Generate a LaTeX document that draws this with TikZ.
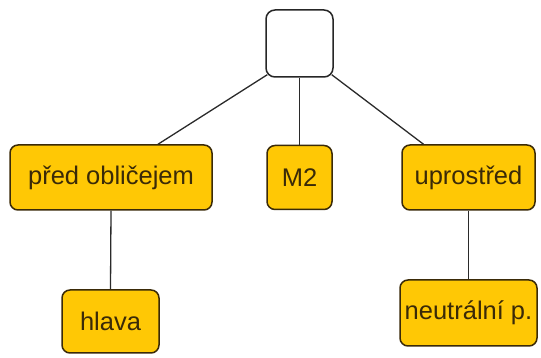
\documentclass[tikz,border=0pt]{standalone}
\usepackage{fontspec}
\setmainfont{Liberation Sans}
\definecolor{boxfill}{HTML}{FFC805}
\definecolor{boxline}{HTML}{3A2A08}
\definecolor{txt}{HTML}{3A2A08}
\definecolor{conn}{HTML}{2A2A2A}
\newcommand{\lbl}[1]{\raisebox{-2pt}{#1}}
\begin{document}
\begin{tikzpicture}[x=1pt,y=1pt,
  leaf/.style={draw=boxline, line width=1.5pt, fill=boxfill, rounded corners=8pt,
    text=txt, font=\fontsize{25.5}{27}\selectfont, inner sep=0pt},
  rootbox/.style={draw=black!85, line width=1.5pt, fill=white, rounded corners=9pt},
  conn/.style={draw=conn, line width=1.3pt}]
\useasboundingbox (0,0) rectangle (541,358);
\node[rootbox, minimum width=67pt, minimum height=67pt] (top) at (299.5,314.5) {};
\node[leaf, minimum width=202pt, minimum height=65pt] (pred) at (111,180.5) {\lbl{před obličejem}};
\node[leaf, minimum width=65pt, minimum height=64pt] (m2) at (299.5,180.5) {\lbl{M2}};
\node[leaf, minimum width=133pt, minimum height=65pt] (upr) at (468.5,180.5) {\lbl{uprostřed}};
\node[leaf, minimum width=97pt, minimum height=63pt] (hlava) at (110.5,36.5) {\lbl{hlava}};
\node[leaf, minimum width=137pt, minimum height=66pt] (neut) at (468.5,45) {\lbl{neutrální p.}};
\draw[conn] ([shift={(2pt,3pt)}]top.south west) -- ([xshift=47pt]pred.north);
\draw[conn] (top.south) -- (m2.north);
\draw[conn] ([shift={(-2pt,3pt)}]top.south east) -- ([xshift=-45pt]upr.north);
\draw[conn] (pred.south) -- (hlava.north);
\draw[conn] (upr.south) -- (neut.north);
\end{tikzpicture}
\end{document}
